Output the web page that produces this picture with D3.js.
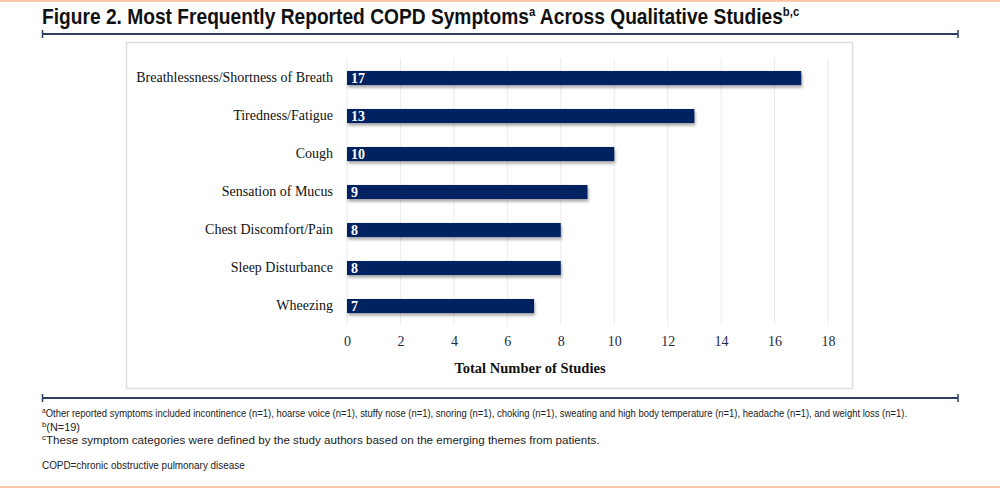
<!DOCTYPE html>
<html>
<head>
<meta charset="utf-8">
<script src="https://cdn.jsdelivr.net/npm/d3@7"></script>
<style>
  body { margin: 0; background: #fff; }
  svg { display: block; }
</style>
</head>
<body>
<div id="chart"></div>
<script>
// data
var symptoms = ["Breathlessness/Shortness of Breath", "Tiredness/Fatigue", "Cough",
                "Sensation of Mucus", "Chest Discomfort/Pain", "Sleep Disturbance", "Wheezing"];
var studies = [17, 13, 10, 9, 8, 8, 7];
var xTicks = [0, 2, 4, 6, 8, 10, 12, 14, 16, 18];
var footnotes = [
  {sup: "a", text: "Other reported symptoms included incontinence (n=1), hoarse voice (n=1), stuffy nose (n=1), snoring (n=1), choking (n=1), sweating and high body temperature (n=1), headache (n=1), and weight loss (n=1).", y: 417, w: 866},
  {sup: "b", text: "(N=19)", y: 430.5, w: 38},
  {sup: "c", text: "These symptom categories were defined by the study authors based on the emerging themes from patients.", y: 444, w: 558},
  {sup: "", text: "COPD=chronic obstructive pulmonary disease", y: 469, w: 203}
];

var W = 1000, H = 488;
var sans = "'Liberation Sans', Arial, Helvetica, sans-serif";
var serif = "'Liberation Serif', 'Times New Roman', serif";
var navy = "#002060", rule = "#2b3f66";

var svg = d3.select("#chart").append("svg")
    .attr("width", W)
    .attr("height", H);

var defs = svg.append("defs");
var f = defs.append("filter").attr("id", "shadow")
    .attr("x", "-5%").attr("y", "-30%").attr("width", "110%").attr("height", "190%");
f.append("feDropShadow").attr("dx", 1).attr("dy", 2.5).attr("stdDeviation", 1.5)
    .attr("flood-color", "#000").attr("flood-opacity", 0.35);

// squeeze a text horizontally to a given width (the reference uses a narrow face)
function squeeze(t, x0, y0, target) {
  var w = t.node().getComputedTextLength();
  var s = w > 0 ? target / w : 1;
  t.attr("transform", "translate(" + x0 + "," + y0 + ") scale(" + s + ",1)");
}

// peach page borders
svg.append("rect").attr("x", 0).attr("y", 0).attr("width", W).attr("height", 2).attr("fill", "#fbcaa8");
svg.append("rect").attr("x", 0).attr("y", H - 2).attr("width", W).attr("height", 2).attr("fill", "#fbcaa8");

// title
var title = svg.append("text")
    .style("font-family", sans)
    .style("font-weight", "bold")
    .style("font-size", "22px")
    .attr("fill", "#111");
title.append("tspan").text("Figure 2. Most Frequently Reported COPD Symptoms");
title.append("tspan").attr("dy", -8).style("font-size", "13px").text("a");
title.append("tspan").attr("dy", 8).text(" Across Qualitative Studies");
title.append("tspan").attr("dy", -8).style("font-size", "13px").text("b,c");
squeeze(title, 42, 24, 758);

// horizontal rules with end caps
function hrule(y) {
  var g = svg.append("g").attr("stroke", rule);
  g.append("line").attr("x1", 42).attr("x2", 958).attr("y1", y).attr("y2", y).attr("stroke-width", 2.2);
  g.append("line").attr("x1", 42.5).attr("x2", 42.5).attr("y1", y - 4).attr("y2", y + 4).attr("stroke-width", 1.5);
  g.append("line").attr("x1", 958).attr("x2", 958).attr("y1", y - 4).attr("y2", y + 4).attr("stroke-width", 1.5);
}
hrule(34);
hrule(398);

// chart frame
svg.append("rect")
    .attr("x", 126.5).attr("y", 42.5).attr("width", 726).attr("height", 346)
    .attr("fill", "#fff").attr("stroke", "#dedede").attr("stroke-width", 1.5);

var x = d3.scaleLinear().domain([0, 18]).range([347, 828]);
var y = d3.scaleBand().domain(symptoms).range([59, 325]).paddingInner(0.63).paddingOuter(0.315);

// grid
svg.append("g").selectAll("line")
    .data(xTicks)
    .enter().append("line")
    .attr("x1", d => x(d)).attr("x2", d => x(d))
    .attr("y1", 58).attr("y2", 325)
    .attr("stroke", "#ebebeb").attr("stroke-width", 1);

// bars
svg.append("g").selectAll("rect")
    .data(studies)
    .enter().append("rect")
    .attr("x", x(0))
    .attr("y", (d, i) => y(symptoms[i]))
    .attr("width", d => x(d) - x(0))
    .attr("height", y.bandwidth())
    .attr("fill", navy)
    .attr("filter", "url(#shadow)");

// value labels
svg.append("g").selectAll("text")
    .data(studies)
    .enter().append("text")
    .attr("x", x(0) + 4)
    .attr("y", (d, i) => y(symptoms[i]) + y.bandwidth() / 2 + 5)
    .style("font-family", serif)
    .style("font-weight", "bold")
    .style("font-size", "14px")
    .attr("fill", "#fff")
    .text(d => d);

// category labels
var yAxis = svg.append("g")
    .attr("transform", "translate(" + (x(0) - 14) + ",0)")
    .call(d3.axisLeft(y).tickSize(0).tickPadding(0));
yAxis.select(".domain").remove();
yAxis.selectAll("text")
    .style("font-family", serif)
    .style("font-size", "14px")
    .attr("fill", "#111")
    .attr("dy", "0.32em");

// x axis
var xAxis = svg.append("g")
    .attr("transform", "translate(0,325)")
    .call(d3.axisBottom(x).tickValues(xTicks).tickSize(0).tickPadding(11));
xAxis.select(".domain").remove();
xAxis.selectAll("text")
    .style("font-family", serif)
    .style("font-size", "14px")
    .attr("fill", "#1f2a44");

svg.append("text")
    .attr("x", 530).attr("y", 373)
    .attr("text-anchor", "middle")
    .style("font-family", serif)
    .style("font-weight", "bold")
    .style("font-size", "14.5px")
    .attr("fill", "#111")
    .text("Total Number of Studies");

// footnotes
footnotes.forEach(function(d) {
  var t = svg.append("text")
      .style("font-family", sans)
      .style("font-size", "11.5px")
      .attr("fill", "#222");
  if (d.sup) {
    t.append("tspan").attr("dy", -4).style("font-size", "8px").text(d.sup);
    t.append("tspan").attr("dy", 4).text(d.text);
  } else {
    t.append("tspan").text(d.text);
  }
  squeeze(t, 42, d.y, d.w);
});
</script>
</body>
</html>
